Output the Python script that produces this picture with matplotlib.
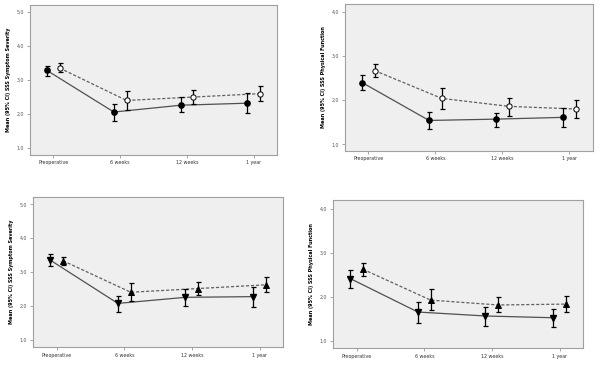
import matplotlib
matplotlib.use("Agg")
import matplotlib.pyplot as plt
import numpy as np

categories = ["Preoperative", "6 weeks", "12 weeks", "1 year"]

# Panel A: top-left, Symptom Severity
a_solid = [3.28, 2.06, 2.26, 2.32]
a_solid_lo = [3.13, 1.81, 2.05, 2.03]
a_solid_hi = [3.42, 2.29, 2.49, 2.61]
a_dash = [3.35, 2.40, 2.50, 2.60]
a_dash_lo = [3.23, 2.13, 2.29, 2.39]
a_dash_hi = [3.49, 2.67, 2.72, 2.81]

# Panel B: top-right, Physical Function
b_solid = [2.40, 1.54, 1.57, 1.61]
b_solid_lo = [2.22, 1.34, 1.39, 1.40]
b_solid_hi = [2.58, 1.73, 1.72, 1.82]
b_dash = [2.67, 2.04, 1.86, 1.80]
b_dash_lo = [2.52, 1.80, 1.64, 1.60]
b_dash_hi = [2.82, 2.28, 2.06, 2.01]

# Panel C: bottom-left, Symptom Severity
c_solid = [3.35, 2.07, 2.25, 2.27]
c_solid_lo = [3.18, 1.83, 1.98, 1.97]
c_solid_hi = [3.52, 2.30, 2.51, 2.56]
c_dash = [3.33, 2.40, 2.51, 2.62]
c_dash_lo = [3.20, 2.13, 2.33, 2.40]
c_dash_hi = [3.45, 2.66, 2.69, 2.84]

# Panel D: bottom-right, Physical Function
d_solid = [2.41, 1.65, 1.56, 1.52]
d_solid_lo = [2.20, 1.41, 1.33, 1.30]
d_solid_hi = [2.60, 1.88, 1.77, 1.73]
d_dash = [2.62, 1.92, 1.81, 1.83]
d_dash_lo = [2.47, 1.70, 1.64, 1.65]
d_dash_hi = [2.77, 2.17, 1.99, 2.02]

sev_ticks = [1.0, 2.0, 3.0, 4.0, 5.0]
fun_ticks = [1.0, 2.0, 3.0, 4.0]

fig = plt.figure(figsize=(6.0, 3.68), dpi=100)
fig.patch.set_facecolor("white")

panels = [
    ([0.050, 0.579, 0.412, 0.408], (0.80, 5.21), sev_ticks, "Mean (95% CI) SSS Symptom Severity",
     (a_solid, a_solid_lo, a_solid_hi), (a_dash, a_dash_lo, a_dash_hi), ("o", "o"), ("black", "white")),
    ([0.575, 0.590, 0.413, 0.399], (0.85, 4.18), fun_ticks, "Mean (95% CI) SSS Physical Function",
     (b_solid, b_solid_lo, b_solid_hi), (b_dash, b_dash_lo, b_dash_hi), ("o", "o"), ("black", "white")),
    ([0.055, 0.057, 0.417, 0.408], (0.78, 5.22), sev_ticks, "Mean (95% CI) SSS Symptom Severity",
     (c_solid, c_solid_lo, c_solid_hi), (c_dash, c_dash_lo, c_dash_hi), ("v", "^"), ("black", "black")),
    ([0.555, 0.054, 0.417, 0.402], (0.83, 4.19), fun_ticks, "Mean (95% CI) SSS Physical Function",
     (d_solid, d_solid_lo, d_solid_hi), (d_dash, d_dash_lo, d_dash_hi), ("v", "^"), ("black", "black")),
]

x = np.arange(len(categories))
off = 0.095

for rect, ylim, yt, ylab, sol, das, mk, fc in panels:
    ax = fig.add_axes(rect)
    ax.set_facecolor("#efefef")
    for s in ax.spines.values():
        s.set_color("#a0a0a0")
        s.set_linewidth(0.8)
    m, lo, hi = sol
    m = np.array(m); lo = np.array(lo); hi = np.array(hi)
    ax.plot(x - off, m, color="#505050", lw=0.9, ls="-", zorder=2)
    ax.errorbar(x - off, m, yerr=[m - lo, hi - m], fmt="none", ecolor="black",
                elinewidth=0.9, capsize=1.8, capthick=0.9, zorder=3)
    ax.plot(x - off, m, ls="none", marker=mk[0], ms=3.8, mfc="black", mec="black", zorder=4)
    m, lo, hi = das
    m = np.array(m); lo = np.array(lo); hi = np.array(hi)
    ax.plot(x + off, m, color="#606060", lw=0.9, ls=(0, (2.5, 1.5)), zorder=2)
    ax.errorbar(x + off, m, yerr=[m - lo, hi - m], fmt="none", ecolor="black",
                elinewidth=0.9, capsize=1.8, capthick=0.9, zorder=3)
    ax.plot(x + off, m, ls="none", marker=mk[1], ms=3.8, mfc=fc[1], mec="black", mew=0.7, zorder=4)
    ax.set_xlim(-0.35, 3.35)
    ax.set_ylim(*ylim)
    ax.set_xticks(x)
    ax.set_xticklabels(categories, fontsize=3.4, color="#333333")
    ax.set_yticks(yt)
    ax.set_yticklabels([f"{v:.1f}".replace(".", ",") for v in yt], fontsize=3.4, color="#555555")
    ax.tick_params(axis="both", length=2, width=0.5, color="#808080", pad=2)
    ax.set_ylabel(ylab, fontsize=3.5, fontweight="bold", labelpad=4)

fig.savefig("out.png", dpi=100, facecolor="white")
